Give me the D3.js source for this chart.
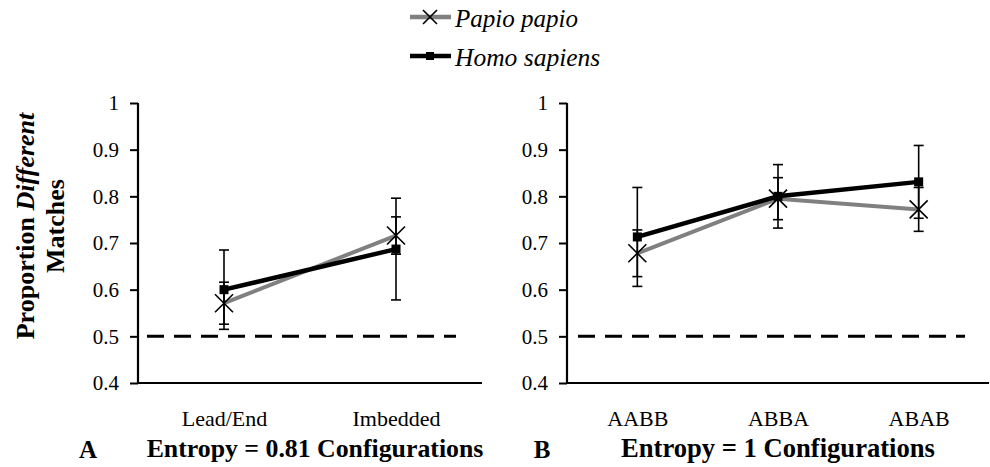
<!DOCTYPE html>
<html>
<head>
<meta charset="utf-8">
<script src="https://cdn.jsdelivr.net/npm/d3@7"></script>
<style>
  body { margin: 0; background: #fff; }
  svg text { font-family: 'Liberation Serif', 'DejaVu Serif', serif; fill: #000; }
</style>
</head>
<body>
<svg width="990" height="467"></svg>
<script>
/* values */
var catsA = ["Lead/End", "Imbedded"];
var catsB = ["AABB", "ABBA", "ABAB"];
var papioA = [0.571, 0.716];
var papioAErr = [0.045, 0.04];
var homoA = [0.600, 0.687];
var homoAErr = [0.085, 0.109];
var papioB = [0.678, 0.795, 0.772];
var papioBErr = [0.05, 0.045, 0.047];
var homoB = [0.713, 0.800, 0.831];
var homoBErr = [0.106, 0.068, 0.078];
var yTicks = [0.4, 0.5, 0.6, 0.7, 0.8, 0.9, 1];
var chance = 0.5;

var svg = d3.select("svg");
var y = d3.scaleLinear().domain([0.4, 1]).range([383, 103]);

function panel(cats, papio, papioErr, homo, homoErr, x0, x1, dash0, dash1, letter, title, titleX, titleSize) {
  var x = d3.scalePoint().domain(cats).range([x0, x1]).padding(0.5);
  var g = svg.append("g");

  // y axis
  var ya = g.append("g").attr("transform", "translate(" + x0 + ",0)")
    .call(d3.axisLeft(y).tickValues(yTicks).tickSize(8).tickPadding(11)
      .tickFormat(function(d){ return d == 1 ? "1" : d3.format(".1f")(d); }));
  ya.attr("font-family", null).attr("font-size", null);
  ya.select(".domain").attr("stroke", "#000").attr("stroke-width", 2.2).attr("d", "M0,103V383");
  ya.selectAll(".tick line").attr("stroke", "#000").attr("stroke-width", 2);
  ya.selectAll(".tick text").style("font-size", "21px");

  // x axis
  var xa = g.append("g").attr("transform", "translate(0,383)")
    .call(d3.axisBottom(x).tickSize(0).tickPadding(27));
  xa.attr("font-family", null).attr("font-size", null);
  xa.select(".domain").attr("stroke", "#000").attr("stroke-width", 2.2).attr("d", "M" + x0 + ",0H" + x1);
  xa.selectAll(".tick text").style("font-size", "22px");

  // chance line
  g.append("line")
    .attr("x1", dash0).attr("x2", dash1)
    .attr("y1", y(chance)).attr("y2", y(chance))
    .attr("stroke", "#000").attr("stroke-width", 3).attr("stroke-dasharray", "17,10");

  var line = d3.line().x(function(d, i){ return x(cats[i]); }).y(function(d){ return y(d); });

  g.append("path").datum(papio).attr("d", line)
    .attr("fill", "none").attr("stroke", "#808080").attr("stroke-width", 4);
  g.append("path").datum(homo).attr("d", line)
    .attr("fill", "none").attr("stroke", "#000").attr("stroke-width", 4.5);

  function errBars(vals, errs) {
    var eb = g.append("g").selectAll("g").data(vals).enter().append("g");
    eb.append("line")
      .attr("x1", function(d, i){ return x(cats[i]); })
      .attr("x2", function(d, i){ return x(cats[i]); })
      .attr("y1", function(d, i){ return y(d - errs[i]); })
      .attr("y2", function(d, i){ return y(d + errs[i]); })
      .attr("stroke", "#000").attr("stroke-width", 1.6);
    [-1, 1].forEach(function(s){
      eb.append("line")
        .attr("x1", function(d, i){ return x(cats[i]) - 5; })
        .attr("x2", function(d, i){ return x(cats[i]) + 5; })
        .attr("y1", function(d, i){ return y(d + s * errs[i]); })
        .attr("y2", function(d, i){ return y(d + s * errs[i]); })
        .attr("stroke", "#000").attr("stroke-width", 1.6);
    });
  }
  errBars(papio, papioErr);
  errBars(homo, homoErr);

  // markers
  g.append("g").selectAll("path").data(papio).enter().append("path")
    .attr("transform", function(d, i){ return "translate(" + x(cats[i]) + "," + y(d) + ")"; })
    .attr("d", "M-9,-9L9,9M-9,9L9,-9")
    .attr("stroke", "#000").attr("stroke-width", 1.6).attr("fill", "none");
  g.append("g").selectAll("rect").data(homo).enter().append("rect")
    .attr("x", function(d, i){ return x(cats[i]) - 4.5; })
    .attr("y", function(d){ return y(d) - 4.5; })
    .attr("width", 9).attr("height", 9).attr("fill", "#000");

  g.append("text").attr("x", letter).attr("y", 458).attr("text-anchor", "middle")
    .style("font-size", "25px").style("font-weight", "bold").text(letter == 88 ? "A" : "B");
  g.append("text").attr("x", titleX).attr("y", 457).attr("text-anchor", "middle")
    .style("font-size", titleSize).style("font-weight", "bold").text(title);
}

panel(catsA, papioA, papioAErr, homoA, homoAErr, 138, 482, 147, 456, 88, "Entropy = 0.81 Configurations", 315, "25.8px");
panel(catsB, papioB, papioBErr, homoB, homoBErr, 567, 989, 578, 965, 542, "Entropy = 1 Configurations", 778, "26.6px");

// y label
var yl = svg.append("text").attr("transform", "translate(0,226) rotate(-90)")
  .attr("text-anchor", "middle").style("font-weight", "bold").style("font-size", "26px");
yl.append("tspan").attr("x", 0).attr("y", 34).text("Proportion ");
yl.append("tspan").style("font-style", "italic").text("Different");
yl.append("tspan").attr("x", 0).attr("y", 64).text("Matches");

// legend
var legend = [{name: "Papio papio", color: "#808080", y: 17, mark: "x"},
              {name: "Homo sapiens", color: "#000", y: 56, mark: "sq"}];
var lg = svg.append("g").selectAll("g").data(legend).enter().append("g");
lg.append("line").attr("x1", 410).attr("x2", 451)
  .attr("y1", function(d){ return d.y; }).attr("y2", function(d){ return d.y; })
  .attr("stroke", function(d){ return d.color; }).attr("stroke-width", 4.5);
lg.filter(function(d){ return d.mark == "x"; }).append("path")
  .attr("transform", function(d){ return "translate(430," + d.y + ")"; })
  .attr("d", "M-7,-7L7,7M-7,7L7,-7").attr("stroke", "#000").attr("stroke-width", 1.6);
lg.filter(function(d){ return d.mark == "sq"; }).append("rect")
  .attr("x", 426).attr("y", function(d){ return d.y - 4; }).attr("width", 8).attr("height", 8);
lg.append("text").attr("x", 455).attr("y", function(d){ return d.y + 10; })
  .style("font-size", function(d){ return d.mark == "x" ? "25px" : "25.5px"; })
  .style("font-style", "italic").text(function(d){ return d.name; });
</script>
</body>
</html>
